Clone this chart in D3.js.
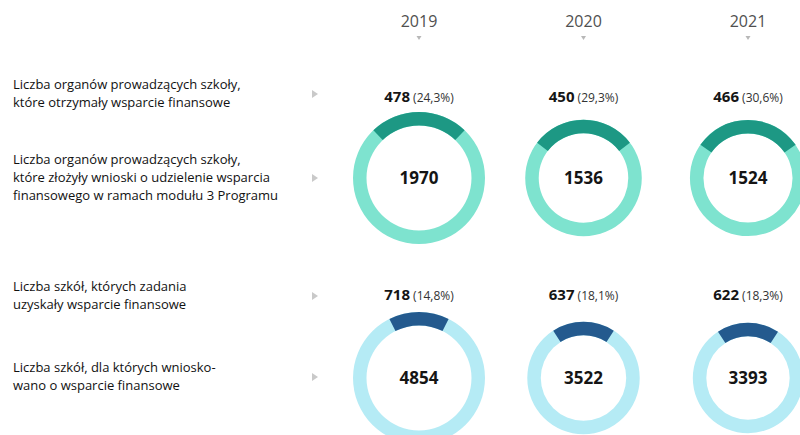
<!DOCTYPE html>
<html>
<head>
<meta charset="utf-8">
<script src="https://cdn.jsdelivr.net/npm/d3@7"></script>
<style>
  body { margin: 0; background: #fff; }
  svg { display: block; font-family: "Open Sans", sans-serif; }
</style>
</head>
<body>
<svg></svg>
<script>
let years = ["2019", "2020", "2021"];

// organy prowadzące szkoły
let orgFunded = [478, 450, 466];
let orgFundedPct = [24.3, 29.3, 30.6];
let orgApplied = [1970, 1536, 1524];

// szkoły
let schoolFunded = [718, 637, 622];
let schoolFundedPct = [14.8, 18.1, 18.3];
let schoolApplied = [4854, 3522, 3393];

let labelsOrgFunded = ["Liczba organów prowadzących szkoły,", "które otrzymały wsparcie finansowe"];
let labelsOrgApplied = [
  "Liczba organów prowadzących szkoły,",
  "które złożyły wnioski o udzielenie wsparcia",
  "finansowego w ramach modułu 3 Programu",
];
let labelsSchoolFunded = ["Liczba szkół, których zadania", "uzyskały wsparcie finansowe"];
let labelsSchoolApplied = ["Liczba szkół, dla których wniosko-", "wano o wsparcie finansowe"];

let width = 800;
let height = 435;
let maxRadius = 66;
let ring = 13.5;

let svg = d3.select("svg").attr("width", width).attr("height", height);

let pl = d3.formatLocale({ decimal: ",", thousands: " ", grouping: [3], currency: ["", " zł"] });
let fmtPct = pl.format(".1f");

let xScale = d3.scalePoint().domain(years).range([419, 748]);

// nagłówki lat
let header = svg.append("g");
header
  .selectAll("text")
  .data(years)
  .enter()
  .append("text")
  .attr("x", (d) => xScale(d))
  .attr("y", 27)
  .attr("text-anchor", "middle")
  .attr("font-size", 16)
  .attr("fill", "#505050")
  .text((d) => d);

header
  .selectAll("path")
  .data(years)
  .enter()
  .append("path")
  .attr("d", (d) => {
    let x = xScale(d);
    return "M" + (x - 2.5) + ",36 L" + (x + 2.5) + ",36 L" + x + ",40 Z";
  })
  .attr("fill", "#b8b8b8");

let drawLabel = (lines, yFirst, arrowY) => {
  let g = svg.append("g");
  g.selectAll("text")
    .data(lines)
    .enter()
    .append("text")
    .attr("x", 13)
    .attr("y", (d, i) => yFirst + 4 + i * 18)
    .attr("font-size", 13)
    .attr("fill", "#111")
    .text((d) => d);
  g.append("path")
    .attr("d", "M312," + (arrowY - 4) + " L318," + arrowY + " L312," + (arrowY + 4) + " Z")
    .attr("fill", "#c9c9c9");
};

drawLabel(labelsOrgFunded, 85, 94);
drawLabel(labelsOrgApplied, 160, 178);
drawLabel(labelsSchoolFunded, 287, 296);
drawLabel(labelsSchoolApplied, 368, 377);

let drawRow = (applied, funded, pct, cy, labelY, lightColor, darkColor) => {
  let rScale = d3.scaleSqrt().domain([0, d3.max(applied)]).range([0, maxRadius]);
  let rows = years.map((y, i) => ({ year: y, applied: applied[i], funded: funded[i], pct: pct[i] }));

  let g = svg.append("g");
  let cell = g
    .selectAll("g")
    .data(rows)
    .enter()
    .append("g")
    .attr("transform", (d) => "translate(" + xScale(d.year) + "," + cy + ")");

  cell
    .append("path")
    .attr("fill", lightColor)
    .attr("d", (d) => {
      let r = rScale(d.applied);
      return d3.arc()({ innerRadius: r - ring, outerRadius: r, startAngle: 0, endAngle: 2 * Math.PI });
    });

  cell
    .append("path")
    .attr("fill", darkColor)
    .attr("d", (d) => {
      let r = rScale(d.applied);
      let a = (d.pct / 100) * 2 * Math.PI;
      return d3.arc()({ innerRadius: r - ring, outerRadius: r, startAngle: -a / 2, endAngle: a / 2 });
    });

  cell
    .append("text")
    .attr("text-anchor", "middle")
    .attr("dy", "0.36em")
    .attr("font-size", 17)
    .attr("font-weight", 700)
    .attr("fill", "#151515")
    .text((d) => d.applied);

  let lbl = cell
    .append("text")
    .attr("text-anchor", "middle")
    .attr("y", labelY - cy)
    .attr("fill", "#151515");
  lbl.append("tspan").attr("font-size", 15).attr("font-weight", 700).text((d) => d.funded);
  lbl
    .append("tspan")
    .attr("font-size", 12)
    .attr("fill", "#333")
    .text((d) => " (" + fmtPct(d.pct) + "%)");
};

drawRow(orgApplied, orgFunded, orgFundedPct, 178, 102, "#7ee3cf", "#1d9884");
drawRow(schoolApplied, schoolFunded, schoolFundedPct, 378, 300, "#b5ebf5", "#245a8e");
</script>
</body>
</html>
